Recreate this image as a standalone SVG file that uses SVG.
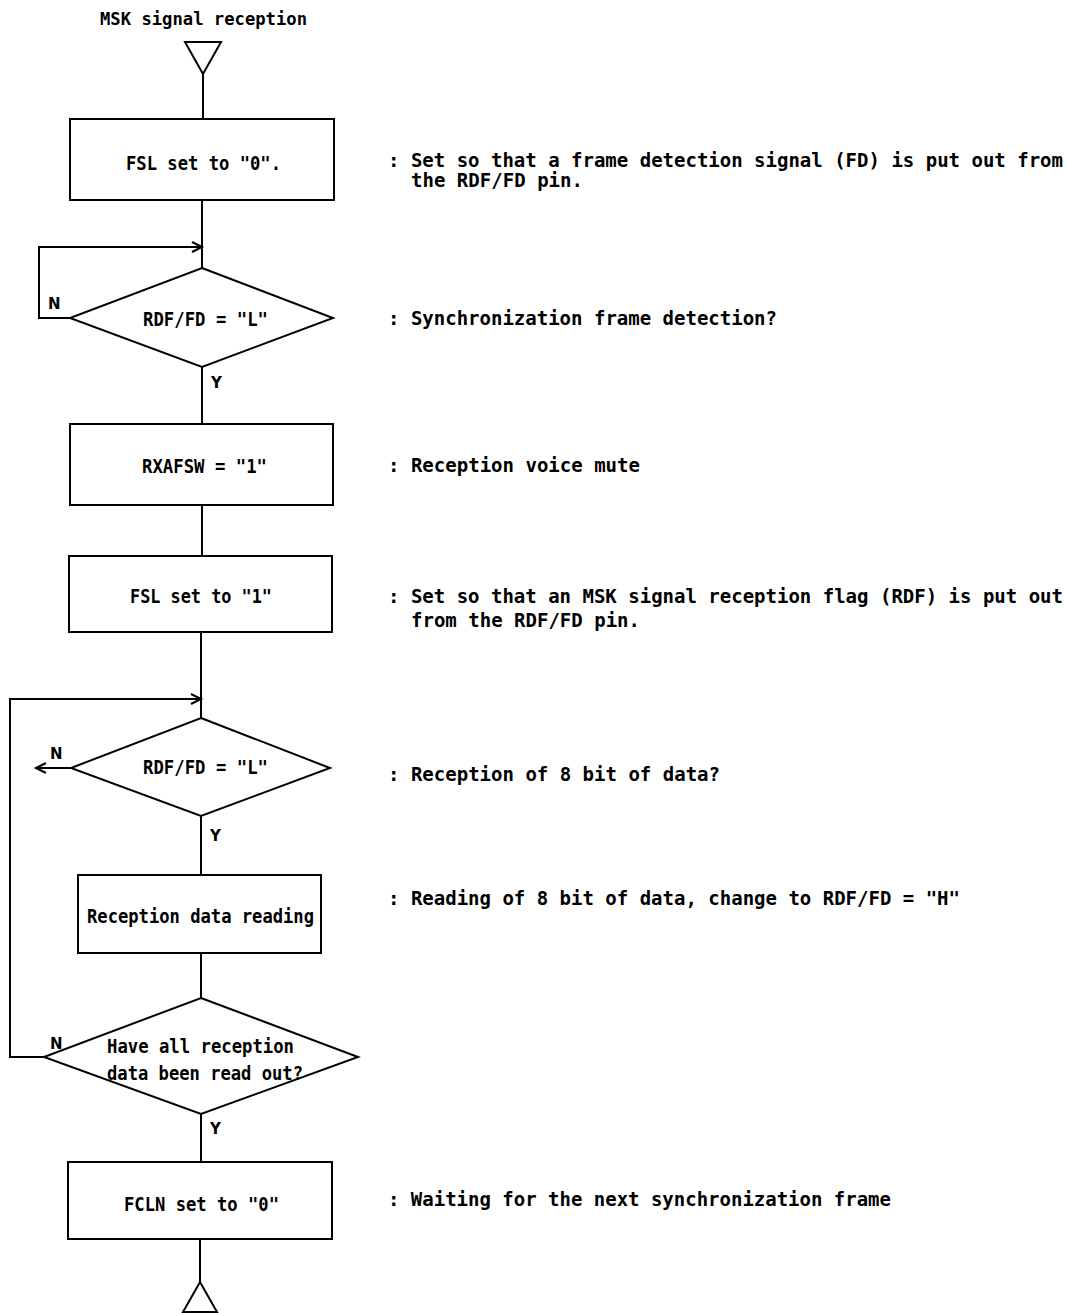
<svg xmlns="http://www.w3.org/2000/svg" width="1069" height="1313" viewBox="0 0 1069 1313">
<style>
.s{fill:none;stroke:#000;stroke-width:2}
.n{fill:#fff;stroke:#000;stroke-width:2}
.t{font-family:"DejaVu Sans Mono","Liberation Mono",monospace;font-weight:bold;font-size:19px;fill:#000}
.h{font-family:"DejaVu Sans Mono","Liberation Mono",monospace;font-weight:bold;font-size:18px;fill:#000}
.r{font-family:"DejaVu Sans Mono","Liberation Mono",monospace;font-weight:bold;font-size:19px;fill:#000}
.l{font-family:"DejaVu Sans","Liberation Sans",sans-serif;font-weight:bold;font-size:15px;fill:#000}
</style>
<defs>
<marker id="a" markerUnits="userSpaceOnUse" markerWidth="14" markerHeight="14" refX="11" refY="6" orient="auto">
<path d="M1,1 L11,6 L1,11" fill="none" stroke="#000" stroke-width="2"/>
</marker>
</defs>
<g id="connectors">
<line class="s" x1="203" y1="74" x2="203" y2="119"/>
<line class="s" x1="202" y1="200" x2="202" y2="268"/>
<polyline class="s" points="70,318 39,318 39,247 202,247" marker-end="url(#a)"/>
<line class="s" x1="202" y1="367" x2="202" y2="424"/>
<line class="s" x1="202" y1="505" x2="202" y2="556"/>
<line class="s" x1="201" y1="632" x2="201" y2="718"/>
<polyline class="s" points="44,1057 10,1057 10,699 201,699" marker-end="url(#a)"/>
<line class="s" x1="71" y1="768" x2="36" y2="768" marker-end="url(#a)"/>
<line class="s" x1="201" y1="816" x2="201" y2="875"/>
<line class="s" x1="201" y1="953" x2="201" y2="998"/>
<line class="s" x1="201" y1="1114" x2="201" y2="1162"/>
<line class="s" x1="200" y1="1239" x2="200" y2="1282"/>
<text class="l" x="48" y="309">N</text>
<text class="l" x="211" y="388">Y</text>
<text class="l" x="50" y="759">N</text>
<text class="l" x="210" y="841">Y</text>
<text class="l" x="50" y="1049">N</text>
<text class="l" x="210" y="1134">Y</text>
</g>
<g id="start">
<text class="h" x="100" y="25" textLength="207" lengthAdjust="spacingAndGlyphs">MSK signal reception</text>
<polygon class="n" points="185,42 221,42 203,74"/>
</g>
<g id="fsl0">
<rect class="n" x="70" y="119" width="264" height="81"/>
<text class="t" x="126" y="170" textLength="155" lengthAdjust="spacingAndGlyphs">FSL set to "0".</text>
</g>
<g id="dec1">
<polygon class="n" points="202,268 333,318 202,367 70,318"/>
<text class="t" x="143" y="326" textLength="125" lengthAdjust="spacingAndGlyphs">RDF/FD = "L"</text>
</g>
<g id="rxafsw">
<rect class="n" x="70" y="424" width="263" height="81"/>
<text class="t" x="142" y="473" textLength="125" lengthAdjust="spacingAndGlyphs">RXAFSW = "1"</text>
</g>
<g id="fsl1">
<rect class="n" x="69" y="556" width="263" height="76"/>
<text class="t" x="130" y="603" textLength="142" lengthAdjust="spacingAndGlyphs">FSL set to "1"</text>
</g>
<g id="dec2">
<polygon class="n" points="201,718 330,768 201,816 71,768"/>
<text class="t" x="143" y="774" textLength="125" lengthAdjust="spacingAndGlyphs">RDF/FD = "L"</text>
</g>
<g id="read">
<rect class="n" x="78" y="875" width="243" height="78"/>
<text class="t" x="87" y="923" textLength="227" lengthAdjust="spacingAndGlyphs">Reception data reading</text>
</g>
<g id="dec3">
<polygon class="n" points="201,998 358,1057 201,1114 44,1057"/>
<text class="t" x="107" y="1053" textLength="187" lengthAdjust="spacingAndGlyphs">Have all reception</text>
<text class="t" x="107" y="1080" textLength="196" lengthAdjust="spacingAndGlyphs">data been read out?</text>
</g>
<g id="fcln">
<rect class="n" x="68" y="1162" width="264" height="77"/>
<text class="t" x="124" y="1211" textLength="155" lengthAdjust="spacingAndGlyphs">FCLN set to "0"</text>
</g>
<g id="end">
<polygon class="n" points="200,1282 217,1312 183,1312"/>
</g>
<g id="notes">
<text class="r" x="388" y="167" textLength="675" lengthAdjust="spacingAndGlyphs">: Set so that a frame detection signal (FD) is put out from</text>
<text class="r" x="411" y="187" textLength="172" lengthAdjust="spacingAndGlyphs">the RDF/FD pin.</text>
<text class="r" x="388" y="325" textLength="389" lengthAdjust="spacingAndGlyphs">: Synchronization frame detection?</text>
<text class="r" x="388" y="472" textLength="252" lengthAdjust="spacingAndGlyphs">: Reception voice mute</text>
<text class="r" x="388" y="603" textLength="675" lengthAdjust="spacingAndGlyphs">: Set so that an MSK signal reception flag (RDF) is put out</text>
<text class="r" x="411" y="627" textLength="229" lengthAdjust="spacingAndGlyphs">from the RDF/FD pin.</text>
<text class="r" x="388" y="781" textLength="332" lengthAdjust="spacingAndGlyphs">: Reception of 8 bit of data?</text>
<text class="r" x="388" y="905" textLength="572" lengthAdjust="spacingAndGlyphs">: Reading of 8 bit of data, change to RDF/FD = "H"</text>
<text class="r" x="388" y="1206" textLength="503" lengthAdjust="spacingAndGlyphs">: Waiting for the next synchronization frame</text>
</g>
</svg>
